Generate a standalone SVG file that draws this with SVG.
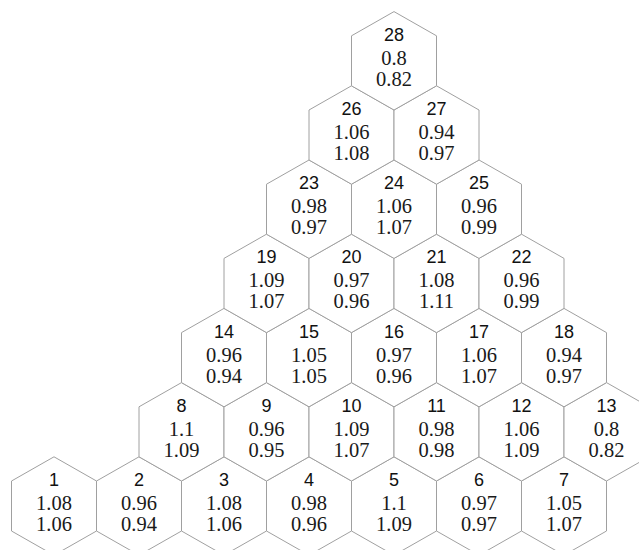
<svg xmlns="http://www.w3.org/2000/svg" xmlns:xlink="http://www.w3.org/1999/xlink" width="639" height="550" viewBox="0 0 639 550">
<style>
.h{fill:#fff;stroke:#a0a0a0;stroke-width:1}
.n{font-family:"Liberation Sans",Arial,sans-serif;font-size:18px;fill:#111;text-anchor:middle}
.v{font-family:"Liberation Serif","Times New Roman",serif;font-size:20.5px;fill:#1a1a1a;text-anchor:middle}
</style>
<defs>
<polygon id="hex" class="h" points="0,-49.2 42.5,-25 42.5,25 0,49.2 -42.5,25 -42.5,-25"/>
</defs>
<rect width="639" height="550" fill="#fff"/>
<g id="connectors"></g>
<g id="n1" transform="translate(54,506)"><use xlink:href="#hex"/><text class="n" y="-20">1</text><text class="v" y="4">1.08</text><text class="v" y="25">1.06</text></g>
<g id="n2" transform="translate(139,506)"><use xlink:href="#hex"/><text class="n" y="-20">2</text><text class="v" y="4">0.96</text><text class="v" y="25">0.94</text></g>
<g id="n3" transform="translate(224,506)"><use xlink:href="#hex"/><text class="n" y="-20">3</text><text class="v" y="4">1.08</text><text class="v" y="25">1.06</text></g>
<g id="n4" transform="translate(309,506)"><use xlink:href="#hex"/><text class="n" y="-20">4</text><text class="v" y="4">0.98</text><text class="v" y="25">0.96</text></g>
<g id="n5" transform="translate(394,506)"><use xlink:href="#hex"/><text class="n" y="-20">5</text><text class="v" y="4">1.1</text><text class="v" y="25">1.09</text></g>
<g id="n6" transform="translate(479,506)"><use xlink:href="#hex"/><text class="n" y="-20">6</text><text class="v" y="4">0.97</text><text class="v" y="25">0.97</text></g>
<g id="n7" transform="translate(564,506)"><use xlink:href="#hex"/><text class="n" y="-20">7</text><text class="v" y="4">1.05</text><text class="v" y="25">1.07</text></g>
<g id="n8" transform="translate(181.5,431.8)"><use xlink:href="#hex"/><text class="n" y="-20">8</text><text class="v" y="4">1.1</text><text class="v" y="25">1.09</text></g>
<g id="n9" transform="translate(266.5,431.8)"><use xlink:href="#hex"/><text class="n" y="-20">9</text><text class="v" y="4">0.96</text><text class="v" y="25">0.95</text></g>
<g id="n10" transform="translate(351.5,431.8)"><use xlink:href="#hex"/><text class="n" y="-20">10</text><text class="v" y="4">1.09</text><text class="v" y="25">1.07</text></g>
<g id="n11" transform="translate(436.5,431.8)"><use xlink:href="#hex"/><text class="n" y="-20">11</text><text class="v" y="4">0.98</text><text class="v" y="25">0.98</text></g>
<g id="n12" transform="translate(521.5,431.8)"><use xlink:href="#hex"/><text class="n" y="-20">12</text><text class="v" y="4">1.06</text><text class="v" y="25">1.09</text></g>
<g id="n13" transform="translate(606.5,431.8)"><use xlink:href="#hex"/><text class="n" y="-20">13</text><text class="v" y="4">0.8</text><text class="v" y="25">0.82</text></g>
<g id="n14" transform="translate(224,357.6)"><use xlink:href="#hex"/><text class="n" y="-20">14</text><text class="v" y="4">0.96</text><text class="v" y="25">0.94</text></g>
<g id="n15" transform="translate(309,357.6)"><use xlink:href="#hex"/><text class="n" y="-20">15</text><text class="v" y="4">1.05</text><text class="v" y="25">1.05</text></g>
<g id="n16" transform="translate(394,357.6)"><use xlink:href="#hex"/><text class="n" y="-20">16</text><text class="v" y="4">0.97</text><text class="v" y="25">0.96</text></g>
<g id="n17" transform="translate(479,357.6)"><use xlink:href="#hex"/><text class="n" y="-20">17</text><text class="v" y="4">1.06</text><text class="v" y="25">1.07</text></g>
<g id="n18" transform="translate(564,357.6)"><use xlink:href="#hex"/><text class="n" y="-20">18</text><text class="v" y="4">0.94</text><text class="v" y="25">0.97</text></g>
<g id="n19" transform="translate(266.5,283.4)"><use xlink:href="#hex"/><text class="n" y="-20">19</text><text class="v" y="4">1.09</text><text class="v" y="25">1.07</text></g>
<g id="n20" transform="translate(351.5,283.4)"><use xlink:href="#hex"/><text class="n" y="-20">20</text><text class="v" y="4">0.97</text><text class="v" y="25">0.96</text></g>
<g id="n21" transform="translate(436.5,283.4)"><use xlink:href="#hex"/><text class="n" y="-20">21</text><text class="v" y="4">1.08</text><text class="v" y="25">1.11</text></g>
<g id="n22" transform="translate(521.5,283.4)"><use xlink:href="#hex"/><text class="n" y="-20">22</text><text class="v" y="4">0.96</text><text class="v" y="25">0.99</text></g>
<g id="n23" transform="translate(309,209.2)"><use xlink:href="#hex"/><text class="n" y="-20">23</text><text class="v" y="4">0.98</text><text class="v" y="25">0.97</text></g>
<g id="n24" transform="translate(394,209.2)"><use xlink:href="#hex"/><text class="n" y="-20">24</text><text class="v" y="4">1.06</text><text class="v" y="25">1.07</text></g>
<g id="n25" transform="translate(479,209.2)"><use xlink:href="#hex"/><text class="n" y="-20">25</text><text class="v" y="4">0.96</text><text class="v" y="25">0.99</text></g>
<g id="n26" transform="translate(351.5,135)"><use xlink:href="#hex"/><text class="n" y="-20">26</text><text class="v" y="4">1.06</text><text class="v" y="25">1.08</text></g>
<g id="n27" transform="translate(436.5,135)"><use xlink:href="#hex"/><text class="n" y="-20">27</text><text class="v" y="4">0.94</text><text class="v" y="25">0.97</text></g>
<g id="n28" transform="translate(394,60.8)"><use xlink:href="#hex"/><text class="n" y="-20">28</text><text class="v" y="4">0.8</text><text class="v" y="25">0.82</text></g>
</svg>
